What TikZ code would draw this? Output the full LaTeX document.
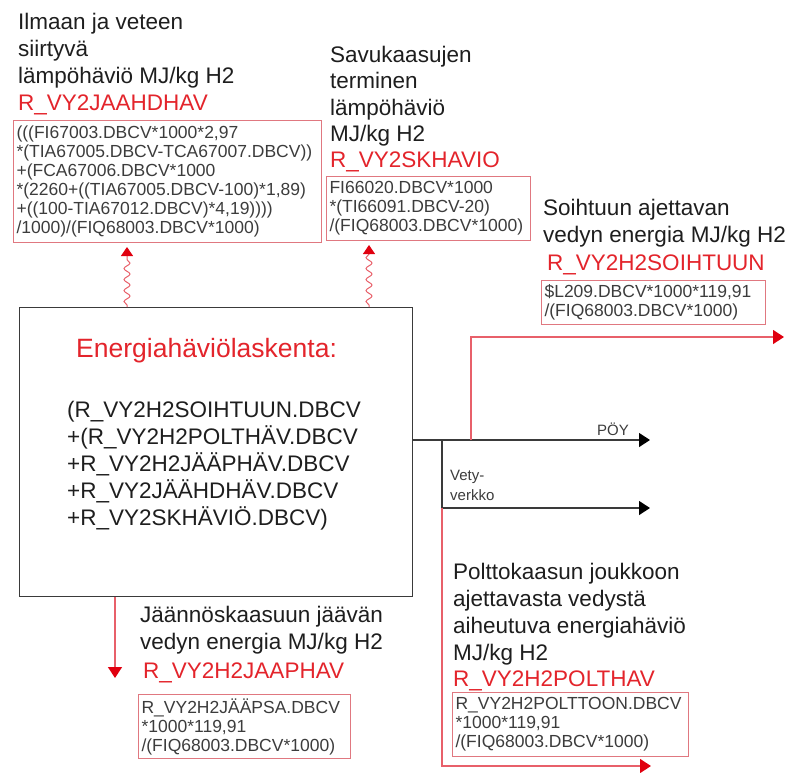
\documentclass[tikz,border=0pt]{standalone}
\usepackage{fontspec}
\setmainfont{Liberation Sans}
\usetikzlibrary{arrows.meta,decorations.pathmorphing,calc}

\definecolor{inkgray}{HTML}{1E1E1E}
\definecolor{codegray}{HTML}{3C3C3C}
\definecolor{labelred}{HTML}{E3242B}
\definecolor{boxpink}{HTML}{E07880}
\definecolor{linepink}{HTML}{E8606A}
\definecolor{tipred}{HTML}{E0000F}
\definecolor{framegray}{HTML}{3A3A3A}

% fixed first-line height so multi-line nodes can be placed by their first baseline
\newcommand\capstrut{\rule{0pt}{0.9em}}

\begin{document}
\begin{tikzpicture}[x=1pt,y=-1pt,
  title/.style={anchor=north west,inner sep=0pt,align=left,text=inkgray,
    font=\fontsize{22.5}{27}\selectfont},
  varname/.style={anchor=base west,inner sep=0pt,text=labelred,
    font=\fontsize{22.5}{27}\selectfont},
  formula/.style={anchor=north west,draw=boxpink,line width=1.1pt,inner xsep=3pt,
    inner ysep=0pt,align=left,text=codegray,font=\fontsize{17.5}{19}\selectfont},
  redflow/.style={draw=linepink,line width=1.3pt,
    -{Triangle[length=11pt,width=14pt,color=tipred]}},
  blackflow/.style={draw=framegray,line width=1.2pt,
    -{Triangle[length=11pt,width=14pt,color=black]}},
  heatflow/.style={draw=linepink,line width=1pt,decorate,
    decoration={snake,amplitude=3pt,segment length=11pt,pre length=2pt,post length=8pt},
    -{Triangle[length=9pt,width=12pt,color=tipred]}},
  smalllabel/.style={anchor=base west,inner sep=0pt,text=codegray,
    font=\fontsize{15}{20}\selectfont},
]
\useasboundingbox (0,0) rectangle (795,772);

% central calculation block
\node[draw=framegray,line width=1.3pt,minimum width=393pt,minimum height=289pt,
      anchor=north west,inner sep=0pt] (main) at (19,307) {};
\node[anchor=base west,inner sep=0pt,text=labelred,font=\fontsize{26.5}{30}\selectfont]
  (mainhead) at (76,357) {Energiahäviölaskenta:};
\node[anchor=north west,inner sep=0pt,align=left,text=inkgray,
      font=\fontsize{22.5}{27}\selectfont] (mainsum) at (67,396.75)
  {\capstrut(R\_VY2H2SOIHTUUN.DBCV\\+(R\_VY2H2POLTHÄV.DBCV\\+R\_VY2H2JÄÄPHÄV.DBCV\\+R\_VY2JÄÄHDHÄV.DBCV\\+R\_VY2SKHÄVIÖ.DBCV)};

% heat loss to air and water
\node[title] (t1) at (18,8.75) {\capstrut Ilmaan ja veteen\\siirtyvä\\lämpöhäviö MJ/kg H2};
\node[varname] (v1) at (18,110) {R\_VY2JAAHDHAV};
\node[formula,text width=302pt,minimum height=122pt] (f1) at (13,120)
  {(((FI67003.DBCV*1000*2,97\\{}*(TIA67005.DBCV-TCA67007.DBCV))\\+(FCA67006.DBCV*1000\\{}*(2260+((TIA67005.DBCV-100)*1,89)\\+((100-TIA67012.DBCV)*4,19))))\\/1000)/(FIQ68003.DBCV*1000)};

% flue gas heat loss
\node[title,font=\fontsize{22.5}{26.5}\selectfont] (t2) at (330,41.75)
  {\capstrut Savukaasujen\\terminen\\lämpöhäviö\\MJ/kg H2};
\node[varname] (v2) at (330,167) {R\_VY2SKHAVIO};
\node[formula,text width=198pt,minimum height=64pt] (f2) at (326,176)
  {FI66020.DBCV*1000\\{}*(TI66091.DBCV-20)\\/(FIQ68003.DBCV*1000)};

% hydrogen to flare
\node[title] (t3) at (543,194.75) {\capstrut Soihtuun ajettavan\\vedyn energia MJ/kg H2};
\node[varname] (v3) at (547,270) {R\_VY2H2SOIHTUUN};
\node[formula,text width=218pt,minimum height=44pt] (f3) at (541,280)
  {\$L209.DBCV*1000*119,91\\/(FIQ68003.DBCV*1000)};

% hydrogen left in residual gas
\node[title] (t4) at (140,601.75) {\capstrut Jäännöskaasuun jäävän\\vedyn energia MJ/kg H2};
\node[varname] (v4) at (143,678) {R\_VY2H2JAAPHAV};
\node[formula,text width=206pt,minimum height=64pt] (f4) at (138,694)
  {R\_VY2H2JÄÄPSA.DBCV\\{}*1000*119,91\\/(FIQ68003.DBCV*1000)};

% hydrogen sent to fuel gas
\node[title] (t5) at (453,558.75)
  {\capstrut Polttokaasun joukkoon\\ajettavasta vedystä\\aiheutuva energiahäviö\\MJ/kg H2};
\node[varname] (v5) at (453,686) {R\_VY2H2POLTHAV};
\node[formula,text width=230pt,minimum height=64pt] (f5) at (452,692)
  {R\_VY2H2POLTTOON.DBCV\\{}*1000*119,91\\/(FIQ68003.DBCV*1000)};

% outlet labels
\node[smalllabel] (poy) at (597,435) {PÖY};
\node[smalllabel,anchor=north west,align=left] (vety) at (450,466.5) {\capstrut Vety-\\verkko};

% connector end points
\coordinate (w1) at (127,247);
\coordinate (w2) at (369,245);
\coordinate (split) at (442,440);
\coordinate (tap) at (471,440);
\coordinate (poyend) at (650,440);
\coordinate (vetyend) at (650,508);
\coordinate (soiend) at (784,337);
\coordinate (poltend) at (651,766);
\coordinate (jaaend) at (115,678);

% connectors
\draw[heatflow] (main.north -| w1) -- (w1);
\draw[heatflow] (main.north -| w2) -- (w2);
\draw[blackflow] (main.east |- split) -- (poyend);
\draw[blackflow] (split) -- (split |- vetyend) -- (vetyend);
\draw[redflow] (split |- vetyend) -- (split |- poltend) -- (poltend);
\draw[redflow] (tap) -- (tap |- soiend) -- (soiend);
\draw[redflow] (main.south -| jaaend) -- (jaaend);
\end{tikzpicture}
\end{document}
